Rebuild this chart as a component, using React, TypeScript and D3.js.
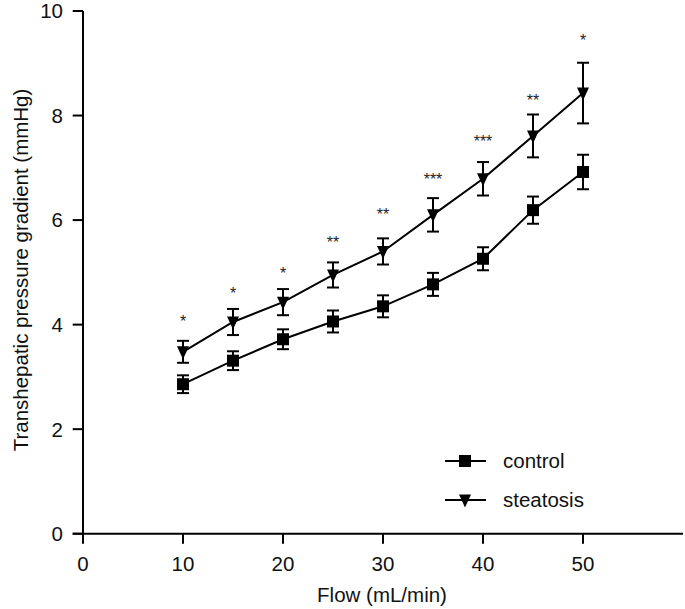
import React from "react";
import * as d3 from "d3";

const flows = [10, 15, 20, 25, 30, 35, 40, 45, 50];
const controlMean = [2.86, 3.31, 3.72, 4.06, 4.35, 4.77, 5.26, 6.19, 6.92];
const controlErr = [0.17, 0.18, 0.19, 0.21, 0.21, 0.22, 0.22, 0.26, 0.33];
const steatosisMean = [3.48, 4.05, 4.43, 4.95, 5.4, 6.1, 6.79, 7.61, 8.43];
const steatosisErr = [0.21, 0.25, 0.25, 0.24, 0.25, 0.32, 0.32, 0.41, 0.58];
const sigLabels = ["*", "*", "*", "**", "**", "***", "***", "**", "*"];
const sigLevel = [4.11, 4.64, 5.03, 5.62, 6.15, 6.83, 7.56, 8.33, 9.48];
const xTicks = [0, 10, 20, 30, 40, 50];
const yTicks = [0, 2, 4, 6, 8, 10];

const W = 685;
const H = 609;
const FONT = "'Liberation Sans', Arial, Helvetica, sans-serif";
const FS = 20.5;

const x = d3.scaleLinear().domain([0, 60]).range([83, 683]);
const y = d3.scaleLinear().domain([0, 10]).range([533.7, 11]);

const line = d3
  .line<number>()
  .x((_, i) => x(flows[i]))
  .y((d) => y(d));

const tri = "M-6,-5.5L6,-5.5L0,7.5Z";

function Series({ means, errs, kind }: { means: number[]; errs: number[]; kind: "sq" | "tri" }) {
  return (
    <g>
      <path d={line(means) || ""} fill="none" stroke="#000" strokeWidth={2} />
      {means.map((m, i) => {
        const cx = x(flows[i]);
        const top = y(m + errs[i]);
        const bot = y(m - errs[i]);
        return (
          <g key={i}>
            <line x1={cx} x2={cx} y1={top} y2={bot} stroke="#000" strokeWidth={2} />
            <line x1={cx - 6} x2={cx + 6} y1={top} y2={top} stroke="#000" strokeWidth={2} />
            <line x1={cx - 6} x2={cx + 6} y1={bot} y2={bot} stroke="#000" strokeWidth={2} />
            {kind === "sq" ? (
              <rect x={cx - 6} y={y(m) - 6} width={12} height={12} fill="#000" />
            ) : (
              <path d={tri} transform={`translate(${cx},${y(m)})`} fill="#000" />
            )}
          </g>
        );
      })}
    </g>
  );
}

export default function App() {
  return (
    <div style={{ position: "absolute", left: 0, top: 0 }}>
      <svg width={W} height={H} style={{ display: "block", background: "#fff" }}>
        <line x1={83} x2={83} y1={y(10)} y2={y(0)} stroke="#000" strokeWidth={2} />
        <line x1={72.7} x2={683} y1={y(0)} y2={y(0)} stroke="#000" strokeWidth={2} />
        {yTicks.map((t) => (
          <g key={"y" + t}>
            <line x1={72.7} x2={83} y1={y(t)} y2={y(t)} stroke="#000" strokeWidth={2} />
            <text
              x={63}
              y={y(t)}
              dy="0.36em"
              textAnchor="end"
              fontFamily={FONT}
              fontSize={FS}
              fill="#111"
            >
              {t}
            </text>
          </g>
        ))}
        {xTicks.map((t) => (
          <g key={"x" + t}>
            <line x1={x(t)} x2={x(t)} y1={y(0)} y2={y(0) + 10} stroke="#000" strokeWidth={2} />
            <text
              x={x(t)}
              y={570.5}
              textAnchor="middle"
              fontFamily={FONT}
              fontSize={FS}
              fill="#111"
            >
              {t}
            </text>
          </g>
        ))}
        <text x={382} y={601.5} textAnchor="middle" fontFamily={FONT} fontSize={FS} fill="#111">
          Flow (mL/min)
        </text>
        <text
          transform={`translate(28,270) rotate(-90)`}
          textAnchor="middle"
          fontFamily={FONT}
          fontSize={FS}
          fill="#111"
        >
          Transhepatic pressure gradient (mmHg)
        </text>

        <Series means={controlMean} errs={controlErr} kind="sq" />
        <Series means={steatosisMean} errs={steatosisErr} kind="tri" />

        {sigLabels.map((s, i) => (
          <text
            key={"s" + i}
            x={x(flows[i])}
            y={y(sigLevel[i])}
            dy="0.5em"
            textAnchor="middle"
            fontFamily={FONT}
            fontSize={16}
            fill="#222"
          >
            {s}
          </text>
        ))}

        <g>
          <line x1={445} x2={486} y1={461} y2={461} stroke="#000" strokeWidth={2} />
          <rect x={459} y={455} width={12} height={12} fill="#000" />
          <text x={503} y={461} dy="0.36em" fontFamily={FONT} fontSize={FS} fill="#111">
            control
          </text>
          <line x1={445} x2={486} y1={500} y2={500} stroke="#000" strokeWidth={2} />
          <path d={tri} transform="translate(465,500)" fill="#000" />
          <text x={503} y={500} dy="0.36em" fontFamily={FONT} fontSize={FS} fill="#111">
            steatosis
          </text>
        </g>
      </svg>
    </div>
  );
}
